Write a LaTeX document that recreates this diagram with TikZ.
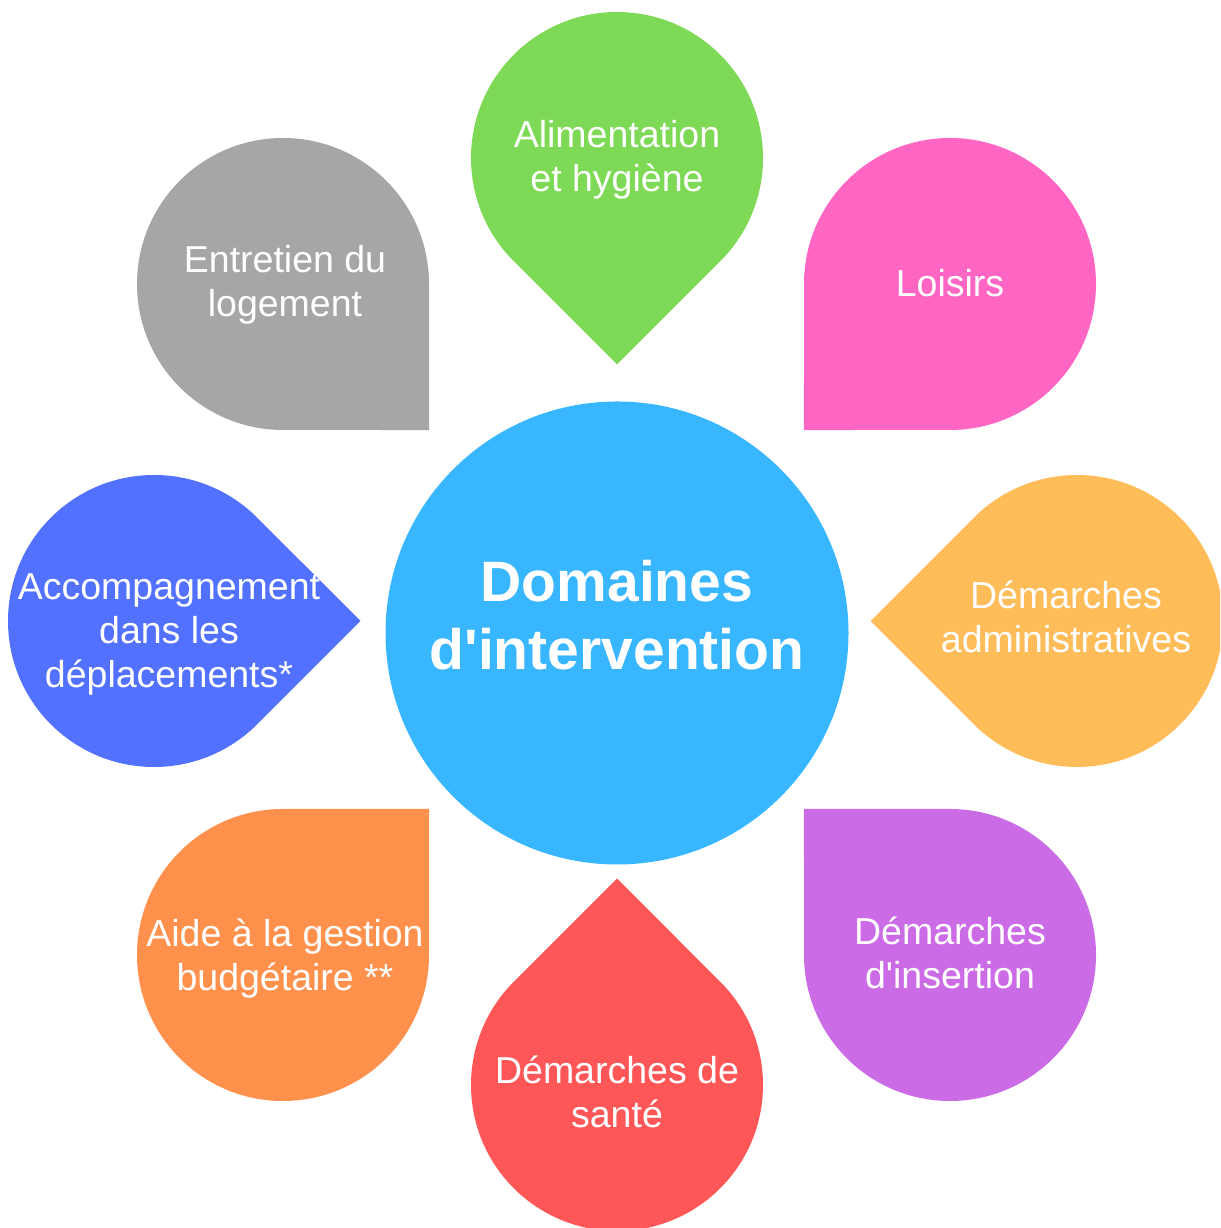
\documentclass[tikz,border=0pt]{standalone}
\usepackage{fontspec}
\setmainfont{Liberation Sans}[Ligatures=TeXOff]
\usetikzlibrary{calc}
\definecolor{cblue}{HTML}{38B6FF}
\definecolor{pgreen}{HTML}{7ED957}
\definecolor{ppink}{HTML}{FF66C4}
\definecolor{pyellow}{HTML}{FFBD59}
\definecolor{ppurple}{HTML}{CB6CE6}
\definecolor{pred}{HTML}{FF5757}
\definecolor{porange}{HTML}{FF914D}
\definecolor{pblue}{HTML}{5271FF}
\definecolor{pgray}{HTML}{A6A6A6}
\newcommand\drawpetal[3]{%
  \fill[#1] ($(#2)+({#3+45}:146pt)$) arc[start angle={#3+45}, delta angle=270, radius=146pt]
    -- ($(#2)+(#3:206.5pt)$) -- cycle;}
\tikzset{
  label/.style={text=white, align=center, anchor=base, inner sep=0pt,
    font=\fontsize{37.5}{44}\selectfont},
  title/.style={text=white, align=center, anchor=base, inner sep=0pt,
    font=\fontsize{57}{68}\selectfont\bfseries},
}
\begin{document}
\begin{tikzpicture}[x=1pt,y=1pt]
\useasboundingbox (0,0) rectangle (1220,1228);
\clip (0,0) rectangle (1220,1228);
\fill[white] (0,0) rectangle (1220,1228);
% petal centres
\coordinate (gC) at (617,1070);
\coordinate (kC) at (950,944);
\coordinate (yC) at (1077,607);
\coordinate (uC) at (950,273);
\coordinate (rC) at (617,143);
\coordinate (oC) at (283,273);
\coordinate (bC) at (154,607);
\coordinate (aC) at (283,944);
\drawpetal{pgreen}{gC}{270}
\drawpetal{ppink}{kC}{225}
\drawpetal{pyellow}{yC}{180}
\drawpetal{ppurple}{uC}{135}
\drawpetal{pred}{rC}{90}
\drawpetal{porange}{oC}{45}
\drawpetal{pblue}{bC}{0}
\drawpetal{pgray}{aC}{315}
% centre
\fill[cblue] (617,595) circle[radius=231.5pt];
% text nodes: anchor=base is the baseline of the last line
\node[title] (t) at (617,558) {Domaines\\d'intervention};
\node[label] (lg) at (617,1036) {Alimentation\\et hygiène};
\node[label] (lk) at (950,931) {Loisirs};
\node[label] (ly) at (1066,575) {Démarches\\administratives};
\node[label] (lu) at (950,239) {Démarches\\d'insertion};
\node[label] (lr) at (617,100) {Démarches de\\santé};
\node[label] (lo) at (285,237) {Aide à la gestion\\budgétaire **};
\node[label] (lb) at (169,540) {Accompagnement\\dans les\\déplacements*};
\node[label] (la) at (285,911) {Entretien du\\logement};
\end{tikzpicture}
\end{document}
